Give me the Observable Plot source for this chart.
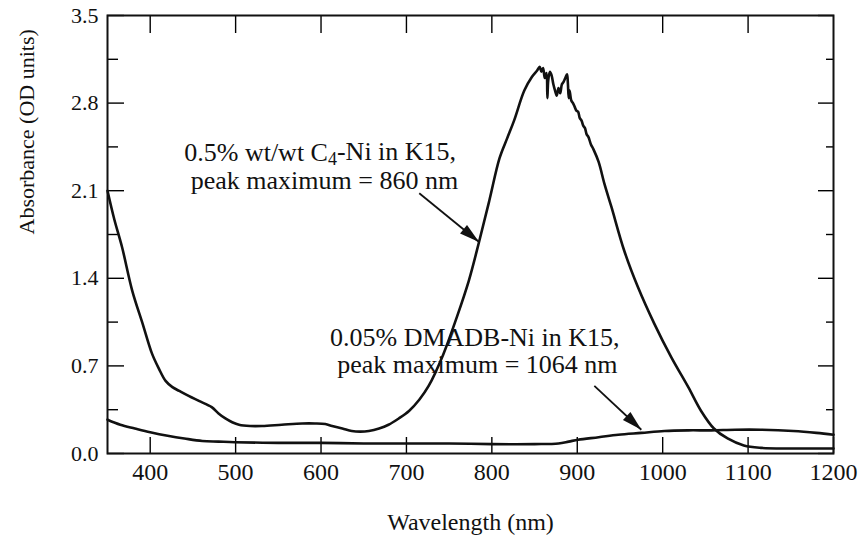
<!DOCTYPE html>
<html><head><meta charset="utf-8">
<script src="https://cdn.jsdelivr.net/npm/d3@7"></script>
<script src="https://cdn.jsdelivr.net/npm/@observablehq/plot@0.6"></script>
<style>
body{margin:0;background:#fff;font-family:"Liberation Serif",serif;}
#chart svg text, #chart svg tspan{font-family:"Liberation Serif","Times New Roman",Times,"DejaVu Serif",serif !important;}
#fontwarm{font-family:"Liberation Serif";height:0;overflow:hidden;font-size:1px;}
</style>
</head><body><div id="fontwarm">&nbsp;</div><div id="chart"></div>
<script>
// C4-Ni in K15 spectrum
const c4Wavelength = [350,358,367,379,391,402,410,418,426,434,445,457,472,480,488,496,504,517,531,554,578,593,605,613,625,636,646,656,668,679,691,703,715,726,743,759,773,785,797,809,818,826,838,847,853,856,858,860,862,864,865,866,868,870,872,874,876,878,880,882,884,886,888,889,890,891,893,895,897,899,901,903,905,907,909,911,913,916,919,925,932,940,955,971,990,1010,1030,1045,1060,1076,1095,1115,1150,1200];
const c4Absorbance = [2.10,1.87,1.65,1.30,1.04,0.80,0.68,0.58,0.53,0.50,0.46,0.42,0.37,0.32,0.28,0.25,0.23,0.22,0.22,0.23,0.24,0.24,0.235,0.22,0.20,0.18,0.175,0.18,0.20,0.23,0.28,0.34,0.43,0.54,0.79,1.09,1.38,1.69,2.02,2.36,2.52,2.66,2.90,3.01,3.06,3.09,3.05,3.08,3.00,3.04,2.84,2.98,3.05,3.02,2.95,2.90,2.86,2.92,2.88,2.95,2.97,3.00,3.03,2.96,2.84,2.90,2.82,2.80,2.77,2.74,2.73,2.68,2.66,2.62,2.60,2.55,2.53,2.47,2.43,2.33,2.15,1.97,1.62,1.33,1.04,0.77,0.53,0.34,0.20,0.12,0.064,0.045,0.04,0.04];
// DMADB-Ni in K15 spectrum
const dmadbWavelength = [350,365,382,400,422,440,461,480,499,550,600,650,700,750,800,850,878,890,901,925,948,975,1002,1030,1057,1085,1115,1153,1180,1200];
const dmadbAbsorbance = [0.27,0.23,0.20,0.17,0.14,0.12,0.10,0.095,0.09,0.085,0.085,0.08,0.08,0.08,0.075,0.075,0.08,0.095,0.11,0.13,0.15,0.165,0.18,0.185,0.185,0.19,0.19,0.18,0.165,0.15];

const xTicks = [400,500,600,700,800,900,1000,1100,1200];
const xTopTicks = [400,500,600,700,800,900,1000,1100];
const yTicks = [0,0.7,1.4,2.1,2.8,3.5];
const yMinorTicks = [0.35,1.05,1.75,2.45,3.15];
const xLabel = "Wavelength (nm)";
const yLabel = "Absorbance (OD units)";

const noteText = ["0.5% wt/wt C4-Ni in K15,","peak maximum = 860 nm","0.05% DMADB-Ni in K15,","peak maximum = 1064 nm"];
const noteX = [599,604,780,783];
const noteY = [2.40,2.18,0.925,0.71];

const arrowX1 = [715,920];
const arrowY1 = [2.08,0.54];
const arrowX2 = [785,975];
const arrowY2 = [1.69,0.19];

const W = 864, H = 544, mL = 107, mR = 31, mT = 15, mB = 91;
const xDomain = [350,1200], yDomain = [0,3.5];
const ff = "Liberation Serif, Times New Roman, Times, DejaVu Serif, serif";

const c4 = c4Wavelength.map((x,i)=>({x, y:c4Absorbance[i]}));
const dm = dmadbWavelength.map((x,i)=>({x, y:dmadbAbsorbance[i]}));
const notes = noteText.map((t,i)=>({text:t, x:noteX[i], y:noteY[i]}));
const kx = (W-mL-mR)/(xDomain[1]-xDomain[0]);
const ky = (H-mT-mB)/(yDomain[1]-yDomain[0]);
const arrows = arrowX1.map((x1,i)=>{
  const dx = (arrowX2[i]-x1)*kx, dy = -(arrowY2[i]-arrowY1[i])*ky;
  return {x1, y1:arrowY1[i], x2:arrowX2[i], y2:arrowY2[i], rot: Math.atan2(dx,-dy)*180/Math.PI};
});

const plot = Plot.plot({
  width: W, height: H,
  marginLeft: mL, marginRight: mR, marginTop: mT, marginBottom: mB,
  x: {domain: xDomain, axis: null},
  y: {domain: yDomain, axis: null},
  marks: [
    Plot.axisX(xTicks, {anchor: "bottom", tickSize: -16, text: null, strokeWidth: 1.4}),
    Plot.axisX(xTopTicks, {anchor: "top", tickSize: -17, text: null, strokeWidth: 1.4}),
    Plot.axisY(yTicks, {anchor: "left", tickSize: -17, text: null, strokeWidth: 1.4}),
    Plot.axisY(yMinorTicks, {anchor: "left", tickSize: -11, text: null, strokeWidth: 1.4}),
    Plot.axisY(yTicks, {anchor: "right", tickSize: -16, text: null, strokeWidth: 1.4}),
    Plot.axisY(yMinorTicks, {anchor: "right", tickSize: -8, text: null, strokeWidth: 1.4}),
    Plot.axisX(xTicks, {anchor: "bottom", tickSize: 0, tickPadding: 9, fontSize: 24, fontFamily: ff, label: null, tickFormat: d => String(d), fill: "#111", ariaLabel: "xticklabels"}),
    Plot.axisY(yTicks, {anchor: "left", tickSize: 0, tickPadding: 9, fontSize: 22, fontFamily: ff, label: null, tickFormat: d => d.toFixed(1), fill: "#111", ariaLabel: "yticklabels"}),
    Plot.frame({stroke: "#111", strokeWidth: 2}),
    Plot.line(c4, {x: "x", y: "y", stroke: "#111", strokeWidth: 2.6, curve: "catmull-rom"}),
    Plot.line(dm, {x: "x", y: "y", stroke: "#111", strokeWidth: 2.6, curve: "catmull-rom"}),
    Plot.link(arrows, {x1: "x1", y1: "y1", x2: "x2", y2: "y2", stroke: "#111", strokeWidth: 1.8}),
    Plot.vector(arrows, {x: "x2", y: "y2", rotate: "rot", length: 20, r: 5.5, shape: "spike", anchor: "end", fill: "#111", stroke: "none"}),
    Plot.text(notes, {x: "x", y: "y", text: "text", fontSize: 26, fontFamily: ff, textAnchor: "middle", lineAnchor: "middle", fill: "#111", ariaLabel: "notes"}),
    Plot.text([xLabel], {text: d => d, frameAnchor: "bottom", dy: 69, fontSize: 24, fontFamily: ff, lineAnchor: "middle", fill: "#111", ariaLabel: "xlabel"}),
    Plot.text([yLabel], {text: d => d, frameAnchor: "left", dx: -81, rotate: -90, fontSize: 22, fontFamily: ff, lineAnchor: "middle", fill: "#111"})
  ]
});
plot.setAttribute("font-family", ff);

// letter spacing to match the wide typesetting of the original
const spacing = (sel, v) => plot.querySelectorAll(sel).forEach(t => { t.setAttribute("letter-spacing", v); t.style.letterSpacing = v + "px"; });
spacing('g[aria-label="notes"] text', 1.2);
spacing('g[aria-label="xticklabels"] text', 0.6);
spacing('g[aria-label="yticklabels"] text', 1.5);
spacing('g[aria-label="xlabel"] text', 0.6);

// subscript "4" in C4
plot.querySelectorAll("text").forEach(t => {
  const s = t.textContent;
  if (s.includes("C4-Ni")) {
    const [a, b] = s.split("C4");
    t.textContent = "";
    const ns = "http://www.w3.org/2000/svg";
    const t1 = document.createElementNS(ns, "tspan"); t1.textContent = a + "C";
    const t2 = document.createElementNS(ns, "tspan"); t2.textContent = "4"; t2.setAttribute("dy", "0.22em"); t2.setAttribute("font-size", "18");
    const t3 = document.createElementNS(ns, "tspan"); t3.textContent = b; t3.setAttribute("dy", "-0.22em");
    t.append(t1, t2, t3);
  }
});
document.getElementById("chart").append(plot);
</script>
</body></html>
